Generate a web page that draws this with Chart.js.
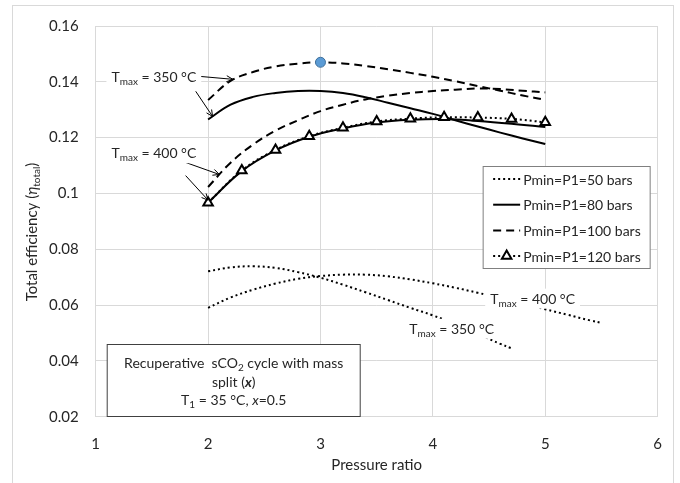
<!DOCTYPE html>
<html>
<head>
<meta charset="utf-8">
<script src="https://cdn.jsdelivr.net/npm/chart.js@4.4.1/dist/chart.umd.min.js"></script>
<style>
  html, body { margin: 0; padding: 0; background: #fff; }
  canvas { display: block; }
</style>
</head>
<body>
<canvas id="rendement" width="680" height="483"></canvas>
<script>
// Rapports de pression (axe x) pour chaque courbe
const prUpper = [2.0, 2.2, 2.4, 2.6, 2.8, 3.0, 3.2, 3.4, 3.6, 3.8, 4.0, 4.2, 4.4, 4.6, 4.8, 5.0];
const prTri = [2.0, 2.3, 2.6, 2.9, 3.2, 3.5, 3.8, 4.1, 4.4, 4.7, 5.0];
const pr50_350 = [2.0, 2.2, 2.4, 2.6, 2.8, 3.0, 3.2, 3.4, 3.6, 3.8, 4.0, 4.2, 4.4, 4.6, 4.7];
const pr50_400 = [2.0, 2.2, 2.4, 2.6, 2.8, 3.0, 3.2, 3.4, 3.6, 3.8, 4.0, 4.2, 4.4, 4.6, 4.8, 5.0, 5.2, 5.4, 5.5];

// Rendement total
const eta80_350 = [0.1265, 0.1318, 0.1346, 0.1360, 0.1367, 0.1367, 0.1360, 0.1345, 0.1325, 0.1305, 0.1285, 0.1262, 0.1240, 0.1218, 0.1197, 0.1177];
const eta100_350 = [0.1335, 0.1403, 0.1435, 0.1455, 0.1465, 0.1470, 0.1466, 0.1457, 0.1445, 0.1432, 0.1418, 0.1402, 0.1385, 0.1368, 0.1351, 0.1335];
const eta100_400 = [0.1023, 0.1110, 0.1175, 0.1225, 0.1262, 0.1295, 0.1318, 0.1337, 0.1350, 0.1360, 0.1367, 0.1372, 0.1376, 0.1374, 0.1368, 0.1362];
const eta80_400 = [0.0967, 0.1080, 0.1154, 0.1203, 0.1233, 0.1254, 0.1264, 0.1267, 0.1260, 0.1250, 0.1238];
const eta120_400 = [0.0967, 0.1082, 0.1156, 0.1205, 0.1235, 0.1258, 0.1268, 0.1273, 0.1272, 0.1267, 0.1255];
const eta50_350 = [0.0721, 0.0735, 0.0739, 0.0733, 0.0718, 0.0698, 0.0673, 0.0646, 0.0618, 0.0590, 0.0563, 0.0531, 0.0496, 0.0461, 0.0445];
const eta50_400 = [0.0590, 0.0627, 0.0655, 0.0677, 0.0694, 0.0704, 0.0709, 0.0709, 0.0703, 0.0692, 0.0678, 0.0662, 0.0644, 0.0625, 0.0605, 0.0585, 0.0565, 0.0545, 0.0536];

// Point du maximum
const prMax = [3.0];
const etaMax = [0.147];

// Graduations
const xTickLabels = ['1', '2', '3', '4', '5', '6'];
const yTickLabels = ['0.02', '0.04', '0.06', '0.08', '0.1', '0.12', '0.14', '0.16'];

// Légende
const legendLabels = ['Pmin=P1=50 bars', 'Pmin=P1=80 bars', 'Pmin=P1=100 bars', 'Pmin=P1=120 bars'];

const POLICE = 'Lato, "Open Sans", sans-serif';
const TEXTE = '#262626';
const GRILLE = '#d9d9d9';
const POINTILLE = [2, 3];
const TIRET = [8, 5];

function points(xs, ys) {
    return xs.map((x, i) => ({ x: x, y: ys[i] }));
}

function courbe(xs, ys, dash) {
    return {
        data: points(xs, ys),
        borderColor: '#000',
        borderWidth: 2,
        borderDash: dash,
        pointRadius: 0,
        tension: 0.4,
        fill: false
    };
}

// Texte avec indices / italique
function police(r, taille) {
    const s = r.sub ? Math.round(taille * 0.68) : taille;
    return (r.i ? 'italic ' : '') + (r.b ? 'bold ' : '') + s + 'px ' + POLICE;
}
function largeur(ctx, runs, taille) {
    let w = 0;
    runs.forEach(r => { ctx.font = police(r, taille); w += ctx.measureText(r.t).width; });
    return w;
}
function ecrire(ctx, runs, x, y, taille, align) {
    const w = largeur(ctx, runs, taille);
    let cx = align === 'center' ? x - w / 2 : x;
    ctx.textAlign = 'left';
    ctx.textBaseline = 'alphabetic';
    runs.forEach(r => {
        ctx.font = police(r, taille);
        ctx.fillText(r.t, cx, y + (r.sub ? taille * 0.22 : 0));
        cx += ctx.measureText(r.t).width;
    });
    return w;
}

function fleche(ctx, x1, y1, x2, y2) {
    const a = Math.atan2(y2 - y1, x2 - x1);
    const l = 7;
    ctx.beginPath();
    ctx.moveTo(x1, y1);
    ctx.lineTo(x2, y2);
    ctx.moveTo(x2 - l * Math.cos(a - 0.45), y2 - l * Math.sin(a - 0.45));
    ctx.lineTo(x2, y2);
    ctx.lineTo(x2 - l * Math.cos(a + 0.45), y2 - l * Math.sin(a + 0.45));
    ctx.stroke();
}

// Étiquettes Tmax (coordonnées en données)
const etiquettes = [
    { x: 1.14, y: 0.1416, t: '350' },
    { x: 1.14, y: 0.1144, t: '400' },
    { x: 3.79, y: 0.0515, t: '350' },
    { x: 4.51, y: 0.0623, t: '400' }
];
const fleches = [
    [1.91, 0.1420, 2.22, 0.1409],
    [1.89, 0.1366, 2.04, 0.1276],
    [1.80, 0.1111, 2.10, 0.1068],
    [1.80, 0.1064, 2.00, 0.0976]
];

const decor = {
    id: 'decor',
    beforeDraw(chart) {
        const ctx = chart.ctx;
        ctx.save();
        ctx.fillStyle = '#fff';
        ctx.fillRect(0, 0, chart.width, chart.height);
        ctx.strokeStyle = GRILLE;
        ctx.lineWidth = 1;
        ctx.strokeRect(12.5, 5.5, 661, 490);
        ctx.restore();
    },
    afterDatasetsDraw(chart) {
        const ctx = chart.ctx;
        const xs = chart.scales.x, ys = chart.scales.y;
        const ca = chart.chartArea;
        ctx.save();

        // flèches
        ctx.strokeStyle = '#000';
        ctx.lineWidth = 1;
        fleches.forEach(f => {
            fleche(ctx, xs.getPixelForValue(f[0]), ys.getPixelForValue(f[1]),
                xs.getPixelForValue(f[2]), ys.getPixelForValue(f[3]));
        });

        // Tmax = ... °C
        etiquettes.forEach(e => {
            const px = xs.getPixelForValue(e.x), py = ys.getPixelForValue(e.y);
            const runs = [{ t: 'T' }, { t: 'max', sub: true }, { t: ' = ' + e.t + ' °C' }];
            const w = largeur(ctx, runs, 14);
            ctx.fillStyle = '#fff';
            ctx.fillRect(px - 5, py - 10, w + 10, 20);
            ctx.fillStyle = TEXTE;
            ecrire(ctx, runs, px, py + 5, 14, 'left');
        });

        // encadré
        const bx = ca.left + 11.5, by = ca.top + 318.5, bw = 253, bh = 72;
        ctx.fillStyle = '#fff';
        ctx.fillRect(bx, by, bw, bh);
        ctx.strokeStyle = '#404040';
        ctx.strokeRect(bx, by, bw, bh);
        ctx.fillStyle = TEXTE;
        const cx = bx + bw / 2;
        ecrire(ctx, [{ t: 'Recuperative  sCO' }, { t: '2', sub: true }, { t: ' cycle with mass' }], cx, by + 23, 14, 'center');
        ecrire(ctx, [{ t: 'split (' }, { t: 'x', i: true, b: true }, { t: ')' }], cx, by + 42, 14, 'center');
        ecrire(ctx, [{ t: 'T' }, { t: '1', sub: true }, { t: ' = 35 °C, ' }, { t: 'x', i: true }, { t: '=0.5' }], cx, by + 60, 14, 'center');

        // légende
        const lx = ca.right - 174.5, ly = ca.top + 140.5;
        ctx.fillStyle = '#fff';
        ctx.fillRect(lx, ly, 167, 102);
        ctx.strokeStyle = '#808080';
        ctx.strokeRect(lx, ly, 167, 102);
        const styles = [POINTILLE, [], TIRET, POINTILLE];
        legendLabels.forEach((lab, i) => {
            const yy = ly + 12.5 + i * 25.7;
            ctx.strokeStyle = '#000';
            ctx.lineWidth = 2;
            ctx.setLineDash(styles[i]);
            ctx.beginPath();
            ctx.moveTo(lx + 10, yy);
            ctx.lineTo(lx + 37, yy);
            ctx.stroke();
            ctx.setLineDash([]);
            if (i === 3) {
                ctx.fillStyle = '#fff';
                Chart.helpers.drawPoint(ctx, { pointStyle: 'triangle', radius: 5.5, rotation: 0 }, lx + 23.5, yy);
                ctx.fill();
                ctx.stroke();
            }
            ctx.fillStyle = TEXTE;
            ctx.font = '14px ' + POLICE;
            ctx.textBaseline = 'middle';
            ctx.fillText(lab, lx + 40, yy + 1);
        });

        // titres des axes
        ctx.fillStyle = TEXTE;
        ecrire(ctx, [{ t: 'Pressure ratio' }], (ca.left + ca.right) / 2, 470, 15, 'center');
        ctx.translate(32, 232);
        ctx.rotate(-Math.PI / 2);
        ecrire(ctx, [{ t: 'Total efficiency (' }, { t: 'η', i: true }, { t: 'total', sub: true }, { t: ')' }], 0, 5, 15, 'center');
        ctx.restore();
    }
};

const triangles = courbe(prTri, eta120_400, POINTILLE);
triangles.pointStyle = 'triangle';
triangles.pointRadius = 5.5;
triangles.pointBackgroundColor = '#fff';
triangles.pointBorderColor = '#000';
triangles.pointBorderWidth = 2;

const ctx = document.getElementById('rendement').getContext('2d');
new Chart(ctx, {
    type: 'line',
    data: {
        datasets: [
            {
                data: points(prMax, etaMax),
                showLine: false,
                pointRadius: 5,
                pointBackgroundColor: '#5b9bd5',
                pointBorderColor: '#41719c',
                pointBorderWidth: 1
            },
            triangles,
            courbe(prTri, eta80_400, []),
            courbe(prUpper, eta100_400, TIRET),
            courbe(prUpper, eta80_350, []),
            courbe(prUpper, eta100_350, TIRET),
            courbe(pr50_350, eta50_350, POINTILLE),
            courbe(pr50_400, eta50_400, POINTILLE)
        ]
    },
    options: {
        responsive: false,
        animation: false,
        layout: { padding: { top: 20, right: 20.7, left: 0, bottom: 0 } },
        plugins: {
            legend: { display: false },
            tooltip: { enabled: false }
        },
        scales: {
            x: {
                type: 'linear',
                min: 1,
                max: 6,
                ticks: {
                    stepSize: 1,
                    padding: 18,
                    color: TEXTE,
                    font: { family: POLICE, size: 15 },
                    callback: (v, i) => xTickLabels[i]
                },
                grid: { color: GRILLE, drawTicks: false },
                border: { color: GRILLE },
                afterFit: s => { s.height = 66.3; }
            },
            y: {
                min: 0.02,
                max: 0.16,
                ticks: {
                    stepSize: 0.02,
                    padding: 17,
                    color: TEXTE,
                    font: { family: POLICE, size: 15 },
                    callback: (v, i) => yTickLabels[i]
                },
                grid: { color: GRILLE, drawTicks: false },
                border: { color: GRILLE },
                afterFit: s => { s.width = 95.7; }
            }
        }
    },
    plugins: [decor]
});
</script>
</body>
</html>
